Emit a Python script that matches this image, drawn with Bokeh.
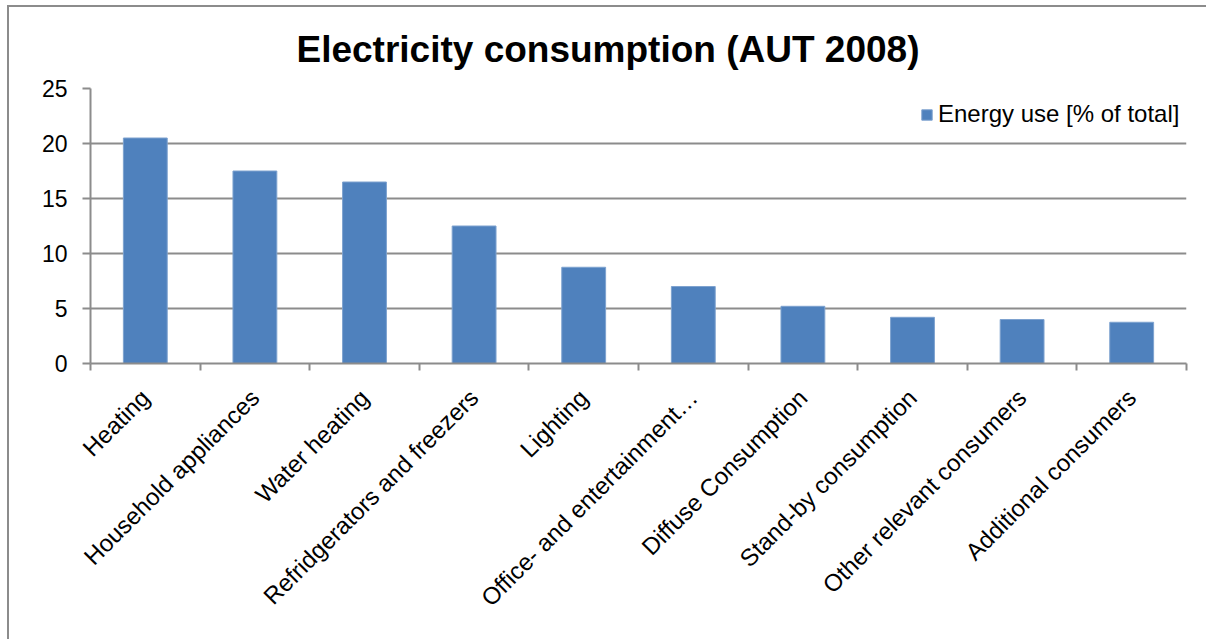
from math import pi

from bokeh.embed import file_html
from bokeh.resources import INLINE
from bokeh.plotting import figure
from bokeh.models import (ColumnDataSource, FixedTicker, Legend,
                          LegendItem, Range1d)

# --- data -------------------------------------------------------------
categories = [
    "Heating",
    "Household appliances",
    "Water heating",
    "Refridgerators and freezers",
    "Lighting",
    "Office- and entertainment\u2026",
    "Diffuse Consumption",
    "Stand-by consumption",
    "Other relevant consumers",
    "Additional consumers",
]
energy_use = [20.5, 17.5, 16.5, 12.5, 8.75, 7.0, 5.2, 4.2, 4.0, 3.75]
y_ticks = [0, 5, 10, 15, 20, 25]
series_name = "Energy use [% of total]"
chart_title = "Electricity consumption (AUT 2008)"

# --- styling ----------------------------------------------------------
FONT = "Liberation Sans"
BAR = "#4F81BD"
BAR_EDGE = "#7EA2CF"
GRID = "#8C8C8C"

n = len(categories)
centers = [i + 0.5 for i in range(n)]
source = ColumnDataSource(dict(x=centers, top=energy_use, name=categories))

p = figure(
    width=1206, height=639,
    x_range=Range1d(0, n), y_range=Range1d(0, 25),
    output_backend="svg", toolbar_location=None,
    min_border_left=90, min_border_right=20,
    min_border_top=88, min_border_bottom=276,
)
p.outline_line_color = None
p.background_fill_color = "white"
p.border_fill_alpha = 0

# chart-area border: thin grey rule along the left and top edges
line = f"linear-gradient({GRID}, {GRID})"
p.styles = {
    "background-color": "white",
    "background-image": f"{line}, {line}",
    "background-position": "7px 5px, 7px 5px",
    "background-size": "2px 100%, 100% 2px",
    "background-repeat": "no-repeat",
}

# title
p.title.text = chart_title
p.title.align = "left"
p.title.offset = 206
p.title.standoff = 37
p.title.text_font = FONT
p.title.text_font_size = "37px"
p.title.text_font_style = "bold"
p.title.text_color = "black"

bars = p.vbar(x="x", top="top", width=0.4, source=source,
              fill_color=BAR, line_color=BAR_EDGE, line_width=1)

# y axis
p.yaxis.ticker = FixedTicker(ticks=y_ticks, minor_ticks=[])
p.yaxis.axis_line_color = GRID
p.yaxis.axis_line_width = 2
p.yaxis.major_tick_line_color = GRID
p.yaxis.major_tick_line_width = 2
p.yaxis.major_tick_in = 0
p.yaxis.major_tick_out = 8
p.yaxis.minor_tick_line_color = None
p.yaxis.major_label_standoff = 15
p.yaxis.major_label_text_font = FONT
p.yaxis.major_label_text_font_size = "23px"
p.yaxis.major_label_text_color = "black"

# x axis: labels at category centres, tick marks on category boundaries
p.xaxis.ticker = FixedTicker(ticks=centers, minor_ticks=list(range(n + 1)))
p.xaxis.major_label_overrides = {c: name for c, name in zip(centers, categories)}
p.xaxis.major_label_orientation = pi / 4
p.xaxis.axis_line_color = GRID
p.xaxis.axis_line_width = 2
p.xaxis.major_tick_line_color = None
p.xaxis.major_tick_in = 0
p.xaxis.major_tick_out = 0
p.xaxis.minor_tick_line_color = GRID
p.xaxis.minor_tick_line_width = 2
p.xaxis.minor_tick_in = 0
p.xaxis.minor_tick_out = 7
p.xaxis.major_label_standoff = 23
p.xaxis.major_label_text_font = FONT
p.xaxis.major_label_text_font_size = "24px"
p.xaxis.major_label_text_color = "black"

# grid
p.xgrid.grid_line_color = None
p.ygrid.ticker = FixedTicker(ticks=y_ticks)
p.ygrid.grid_line_color = GRID
p.ygrid.grid_line_width = 2

# legend
legend = Legend(
    items=[LegendItem(label=series_name, renderers=[bars])],
    location=(830, 235),
    glyph_width=13, glyph_height=13, label_standoff=5,
    padding=0, margin=0, spacing=0,
    border_line_color=None, background_fill_alpha=0,
    label_text_font=FONT, label_text_font_size="24px",
    label_text_color="black",
)
p.add_layout(legend)

open("out.html", "w").write(file_html(p, INLINE))
